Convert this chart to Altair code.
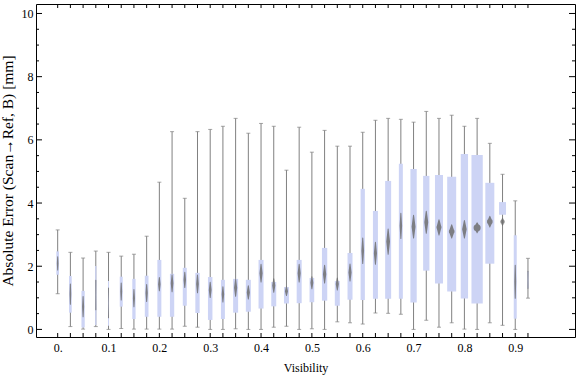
import altair as alt
import pandas as pd

# ---- data ----
positions = [0.000, 0.025, 0.050, 0.075, 0.100, 0.125, 0.150, 0.175, 0.200, 0.225,
             0.250, 0.275, 0.300, 0.325, 0.350, 0.375, 0.400, 0.425, 0.450, 0.475,
             0.500, 0.525, 0.550, 0.575, 0.600, 0.625, 0.650, 0.675, 0.700, 0.725,
             0.750, 0.775, 0.800, 0.825, 0.850, 0.875, 0.900, 0.925]
whisker_low = [1.13, 0.09, 0.01, 0.09, 0.00, 0.03, 0.01, 0.01, 0.01, 0.01,
               0.10, 0.07, 0.00, 0.00, 0.02, 0.00, 0.00, 0.07, 0.10, 0.00,
               0.02, 0.00, 0.24, 0.21, 0.17, 0.52, 0.51, 0.48, 0.00, 0.29,
               0.07, 0.21, 0.01, 0.00, 0.21, 0.13, 0.00, 0.99]
quart_low = [1.73, 0.53, 0.06, 0.14, 0.12, 0.72, 0.33, 0.40, 0.40, 0.40,
             0.75, 0.52, 0.30, 0.33, 0.53, 0.56, 0.66, 0.73, 0.82, 0.83,
             0.86, 0.91, 0.75, 0.94, 0.93, 0.97, 0.97, 0.97, 0.85, 1.86,
             1.45, 1.20, 0.98, 0.82, 2.08, 3.63, 0.34, 1.30]
median = [2.09, 1.12, 0.72, 1.09, 0.84, 1.20, 0.99, 1.15, 1.43, 1.46,
          1.57, 1.44, 1.25, 1.11, 1.32, 1.17, 1.78, 1.39, 1.21, 1.78,
          1.48, 1.75, 1.44, 1.80, 2.49, 2.41, 2.78, 3.28, 3.25, 3.39,
          3.23, 3.10, 3.17, 3.22, 3.41, 3.41, 1.51, 1.57]
quart_high = [2.47, 1.69, 1.22, 2.01, 1.53, 1.67, 1.60, 1.70, 2.20, 1.76,
              1.95, 1.79, 1.66, 1.57, 1.60, 1.57, 2.20, 1.50, 1.34, 2.20,
              1.63, 2.58, 1.53, 2.42, 4.45, 3.75, 4.70, 5.24, 5.08, 4.86,
              4.89, 4.83, 5.55, 5.52, 4.64, 4.03, 2.98, 1.83]
whisker_high = [3.15, 2.44, 2.26, 2.48, 2.44, 2.32, 2.38, 2.95, 4.66, 6.26,
                4.15, 6.26, 6.33, 6.43, 6.68, 6.21, 6.52, 6.43, 5.04, 6.40,
                5.61, 6.30, 5.80, 5.80, 6.24, 6.62, 6.68, 6.65, 6.56, 6.90,
                6.68, 6.78, 6.43, 6.68, 5.89, 4.91, 4.07, 2.25]
# relative sample weight (drives box width)
box_weight = [2.7, 2.7, 3.3, 1.3, 1.0, 3.0, 3.3, 3.7, 4.0, 4.3,
              4.0, 4.3, 4.5, 4.0, 5.0, 5.0, 5.0, 5.0, 5.0, 5.0,
              4.7, 5.3, 5.0, 5.0, 4.3, 5.0, 6.0, 4.0, 6.3, 6.3,
              8.0, 9.0, 7.3, 11.3, 9.0, 7.0, 3.0, 1.3]
# half-extent of the median marker (uncertainty of the median)
median_spread = [0.21, 0.32, 0.32, 0.47, 0.47, 0.27, 0.27, 0.27, 0.21, 0.27,
                 0.24, 0.28, 0.24, 0.24, 0.27, 0.21, 0.28, 0.21, 0.14, 0.28,
                 0.19, 0.28, 0.19, 0.27, 0.40, 0.35, 0.40, 0.40, 0.36, 0.35,
                 0.24, 0.21, 0.28, 0.16, 0.17, 0.11, 0.52, 0.27]

x_label_values = [0.0, 0.1, 0.2, 0.3, 0.4, 0.5, 0.6, 0.7, 0.8, 0.9]
y_major = [0, 2, 4, 6, 8, 10]
y_minor = [0.5, 1, 1.5, 2.5, 3, 3.5, 4.5, 5, 5.5, 6.5, 7, 7.5, 8.5, 9, 9.5]

X_DOMAIN = [-0.0328, 1.0077]
Y_DOMAIN = [-0.24, 10.3]
W, H = 539, 333

FONT = "Liberation Serif"
WHISKER = "#808080"
BOX = "#cdd4f5"
DIAMOND = "#6e6e6e"
X_TITLE = "Visibility"
Y_TITLE = "Absolute Error (Scan→Ref, B) [mm]"

box_df = pd.DataFrame(dict(pos=positions, lo=whisker_low, q1=quart_low, med=median,
                           q3=quart_high, hi=whisker_high, w=box_weight))

rows = []
for p, m, s, w in zip(positions, median, median_spread, box_weight):
    rows.append(dict(pos=p, y=m - s, k=0, w=0.0))
    rows.append(dict(pos=p, y=m, k=1, w=w))
    rows.append(dict(pos=p, y=m + s, k=2, w=0.0))
diamond_df = pd.DataFrame(rows)

xs = alt.Scale(domain=X_DOMAIN, nice=False, zero=False)
ys = alt.Scale(domain=Y_DOMAIN, nice=False, zero=False)

x_axis = alt.Axis(values=x_label_values, ticks=False, domain=False, grid=False,
                  labelExpr="datum.value == 0 ? '0.' : format(datum.value, '.1f')",
                  labelPadding=5, titlePadding=9, labelFlush=False, labelOverlap=False)
y_axis = alt.Axis(values=y_major, ticks=False, domain=False, grid=False,
                  labelExpr="format(datum.value, 'd')", labelPadding=3, titlePadding=6,
                  labelOverlap=False, titleFontSize=15.5)


def X(field):
    return alt.X(field, scale=xs, axis=x_axis, title=X_TITLE)


def Y(field):
    return alt.Y(field, scale=ys, axis=y_axis, title=Y_TITLE)


whiskers = alt.Chart(box_df).mark_rule(color=WHISKER, strokeWidth=1).encode(
    x=X("pos:Q"), y=Y("lo:Q"), y2="hi:Q")
cap_lo = alt.Chart(box_df).mark_tick(orient="horizontal", size=4, thickness=1, color=WHISKER).encode(
    x=X("pos:Q"), y=Y("lo:Q"))
cap_hi = alt.Chart(box_df).mark_tick(orient="horizontal", size=4, thickness=1, color=WHISKER).encode(
    x=X("pos:Q"), y=Y("hi:Q"))

boxes = alt.Chart(box_df).mark_bar(color=BOX, opacity=1).encode(
    x=X("pos:Q"), y=Y("q1:Q"), y2="q3:Q",
    size=alt.Size("w:Q", scale=alt.Scale(domain=[0, 12], range=[0, 12]), legend=None),
)

diamonds = alt.Chart(diamond_df).mark_trail(color=DIAMOND, opacity=0.85).encode(
    x=X("pos:Q"), y=Y("y:Q"),
    detail="pos:N",
    order=alt.Order("k:Q"),
    size=alt.Size("w:Q", scale=alt.Scale(domain=[0, 12], range=[0, 7.5]), legend=None),
)

xt = pd.DataFrame({"v": positions})
ymaj = pd.DataFrame({"v": y_major})
ymin = pd.DataFrame({"v": y_minor})


def xtick(y1, y2):
    return alt.Chart(xt).mark_rule(color="black", strokeWidth=1).encode(
        x=X("v:Q"), y=alt.value(y1), y2=alt.value(y2))


def ytick(df, x1, x2):
    return alt.Chart(df).mark_rule(color="black", strokeWidth=1).encode(
        y=Y("v:Q"), x=alt.value(x1), x2=alt.value(x2))


ticks = [xtick(H, H - 4), xtick(0, 4),
         ytick(ymaj, 0, 6), ytick(ymin, 0, 3),
         ytick(ymaj, W, W - 6), ytick(ymin, W, W - 3)]

chart = alt.layer(whiskers, cap_lo, cap_hi, boxes, diamonds, *ticks).resolve_scale(
    size="independent"
).properties(
    width=W, height=H,
    padding={"left": 36, "top": 4, "right": 1, "bottom": 40},
    autosize=alt.AutoSizeParams(type="none"),
    background="white",
).configure_view(
    stroke="black", strokeWidth=1
).configure_axis(
    labelFont=FONT, titleFont=FONT, labelFontSize=12, titleFontSize=12,
    titleFontWeight="normal", labelColor="black", titleColor="black",
)

chart.save("out.html", embed_options={"renderer": "svg", "actions": False})
